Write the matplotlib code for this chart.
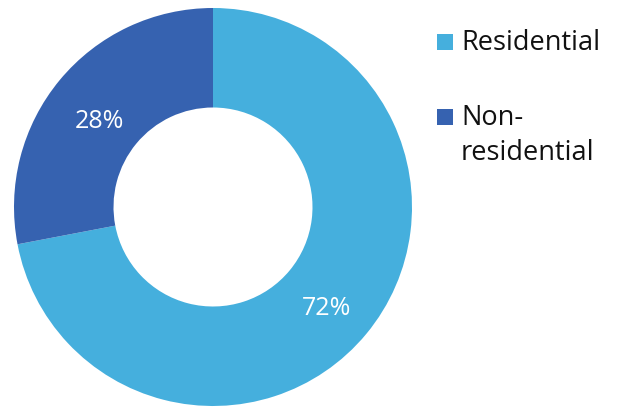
import matplotlib

matplotlib.use("Agg")
import matplotlib.pyplot as plt
import matplotlib.transforms as mtransforms
from matplotlib.patches import Rectangle

plt.rcParams["font.family"] = ["Open Sans", "DejaVu Sans"]

LABELS = ["Residential", "Non-\nresidential"]
SHARES = [72, 28]
COLORS = ["#45afdd", "#3662b0"]

W, H = 618, 408
fig = plt.figure(figsize=(W / 100, H / 100), dpi=100)
ax = fig.add_axes([14 / W, 2 / H, 398 / W, 398 / H])

wedges, texts, autotexts = ax.pie(
    SHARES, colors=COLORS, startangle=90, counterclock=False,
    autopct="%d%%", pctdistance=0.74,
    wedgeprops=dict(width=0.5, edgecolor="none"),
    textprops=dict(color="white", fontsize=18),
)
# nudge the percentage labels down a touch
for t in autotexts:
    t.set_transform(mtransforms.offset_copy(t.get_transform(), fig=fig, y=-8, units="dots"))
ax.set_xlim(-1, 1)
ax.set_ylim(-1, 1)
ax.set_aspect("equal")

# legend drawn by hand so the swatch sits on the first line of a wrapped label
baselines = [50, 125]
line_step = 35
for label, color, base in zip(LABELS, COLORS, baselines):
    fig.patches.append(Rectangle((437 / W, 1 - base / H), 16 / W, 16 / H,
                                 transform=fig.transFigure, facecolor=color,
                                 edgecolor="none"))
    for i, line in enumerate(label.split("\n")):
        fig.text(461 / W, 1 - (base + i * line_step) / H, line, fontsize=19.5,
                 va="baseline", ha="left", color="#111111")

fig.savefig("out.png", dpi=100)
